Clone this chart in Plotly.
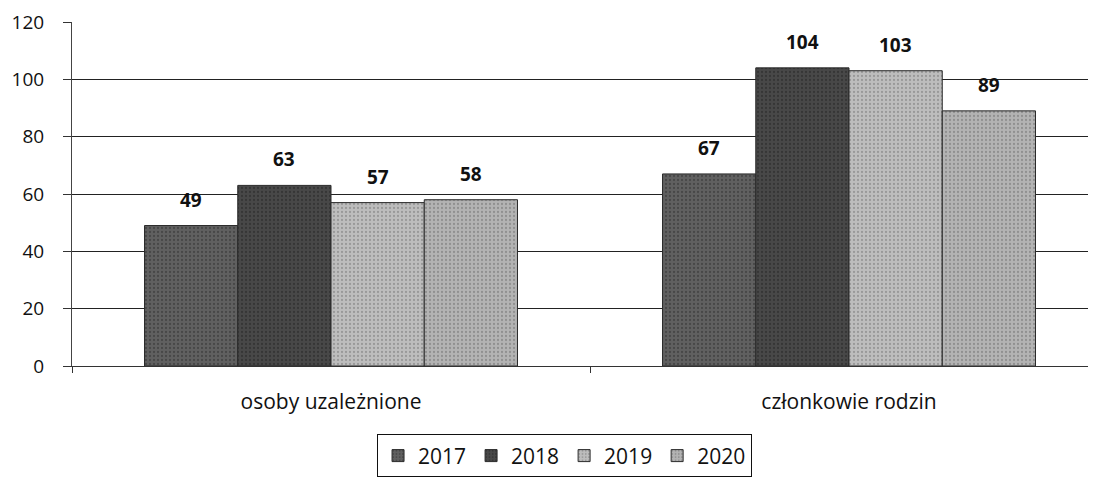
import plotly.graph_objects as go

categories = ["osoby uzależnione", "członkowie rodzin"]
years = ["2017", "2018", "2019", "2020"]
v2017 = [49, 67]
v2018 = [63, 104]
v2019 = [57, 103]
v2020 = [58, 89]
series = [v2017, v2018, v2019, v2020]
y_ticks = [0, 20, 40, 60, 80, 100, 120]

colors = ["#606060", "#484848", "#bdbdbd", "#b3b3b3"]
pat_fg = ["#2e2e2e", "#222222", "#737373", "#6c6c6c"]

FONT = "'Open Sans', Lato, 'DejaVu Sans', sans-serif"

# geometry (figure is offset 8px by the page body margin)
W, H = 1088, 470
ML, MR, MT, MB = 64, 0, 14, 110
X_RANGE = [-0.5, 1.4768]
BARGAP = 0.28
cat_px = (W - ML - MR) / (X_RANGE[1] - X_RANGE[0])
bar_px = cat_px * (1 - BARGAP) / len(years)

fig = go.Figure()
for i, (name, vals, c, fg) in enumerate(zip(years, series, colors, pat_fg)):
    fig.add_trace(go.Bar(
        name=name, x=categories, y=vals,
        marker=dict(color=c, line=dict(color="#2a2a2a", width=1),
                    pattern=dict(shape=".", fgcolor=fg, size=4, solidity=0.25)),
    ))
    for cat, v in zip(categories, vals):
        fig.add_annotation(
            x=cat, y=v, text=f"<b>{v}</b>", showarrow=False,
            xshift=(i - (len(years) - 1) / 2) * bar_px, yshift=11,
            yanchor="bottom", font=dict(size=19, color="#111111", family=FONT),
        )

fig.update_layout(
    width=W, height=H,
    margin=dict(l=ML, r=MR, t=MT, b=MB),
    paper_bgcolor="white", plot_bgcolor="white",
    barmode="group", bargap=BARGAP, bargroupgap=0,
    font=dict(family=FONT, size=18, color="#111111"),
    showlegend=True,
    legend=dict(orientation="h", x=0.481, xanchor="center", y=-0.199, yanchor="top",
                bordercolor="#111111", borderwidth=1, font=dict(size=21),
                itemwidth=30, traceorder="normal"),
)
fig.update_xaxes(
    range=X_RANGE, showgrid=False, showline=True, linecolor="#333333",
    ticks="outside", tickson="boundaries", ticklen=6, tickcolor="#333333",
    tickfont=dict(size=21), ticklabelstandoff=17,
)
fig.update_yaxes(
    range=[0, 120], tickvals=y_ticks, showgrid=True, gridcolor="#222222", gridwidth=1,
    showline=True, linecolor="#444444", ticks="outside", ticklen=8, tickcolor="#333333",
    tickfont=dict(size=19), ticklabelstandoff=15, zeroline=False,
)

fig.write_html("out.html")
